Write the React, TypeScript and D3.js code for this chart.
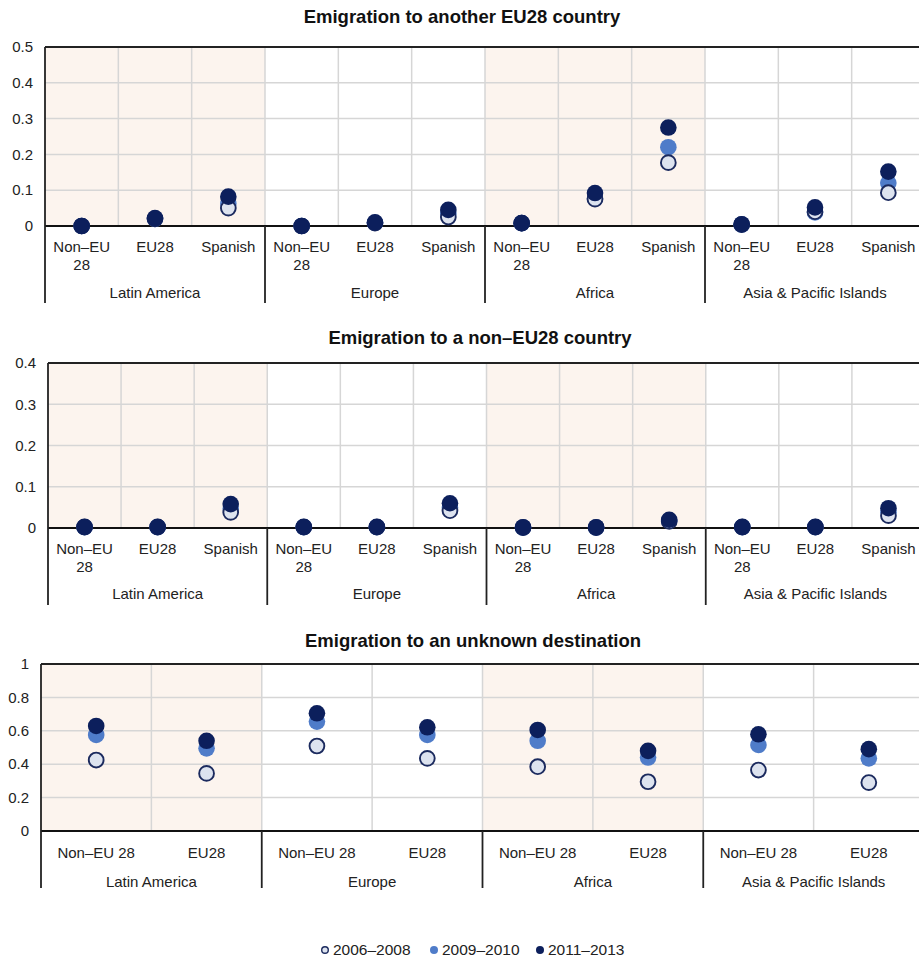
import React from "react";
import * as d3 from "d3";

// ---------- DATA ----------
const groups = ["Latin America", "Europe", "Africa", "Asia & Pacific Islands"];
const subcatsAB = [["Non–EU", "28"], ["EU28"], ["Spanish"]];
const subcatsC = [["Non–EU 28"], ["EU28"]];
const seriesNames = ["2006–2008", "2009–2010", "2011–2013"];

const titleA = "Emigration to another EU28 country";
const titleB = "Emigration to a non–EU28 country";
const titleC = "Emigration to an unknown destination";

const ticksA = [0, 0.1, 0.2, 0.3, 0.4, 0.5];
const ticksB = [0, 0.1, 0.2, 0.3, 0.4];
const ticksC = [0, 0.2, 0.4, 0.6, 0.8, 1];

// Panel A: another EU28 country (12 categories: group x subcat)
const aS1 = [0, 0.02, 0.05, 0, 0.008, 0.025, 0.008, 0.075, 0.177, 0.004, 0.04, 0.093];
const aS2 = [0, 0.02, 0.062, 0, 0.009, 0.035, 0.008, 0.077, 0.22, 0.004, 0.038, 0.12];
const aS3 = [0, 0.022, 0.082, 0, 0.01, 0.045, 0.008, 0.092, 0.275, 0.005, 0.052, 0.152];

// Panel B: non-EU28 country
const bS1 = [0.002, 0.002, 0.038, 0.002, 0.002, 0.042, 0.001, 0.001, 0.016, 0.002, 0.002, 0.03];
const bS2 = [0.002, 0.002, 0.047, 0.002, 0.002, 0.05, 0.001, 0.001, 0.018, 0.002, 0.002, 0.038];
const bS3 = [0.003, 0.003, 0.058, 0.003, 0.003, 0.06, 0.002, 0.002, 0.02, 0.003, 0.003, 0.048];

// Panel C: unknown destination (8 categories)
const cS1 = [0.425, 0.345, 0.509, 0.435, 0.385, 0.295, 0.365, 0.29];
const cS2 = [0.575, 0.495, 0.655, 0.575, 0.54, 0.44, 0.515, 0.435];
const cS3 = [0.629, 0.54, 0.705, 0.621, 0.605, 0.48, 0.579, 0.49];

// ---------- STYLE ----------
const FONT = "'Liberation Sans', Arial, sans-serif";
const C_LIGHT = "#dde3ef";
const C_MID = "#4f7cc9";
const C_DARK = "#0c1f5c";
const C_STROKE = "#1b2a5e";
const SHADE = "#fcf4ee";
const GRID = "#d6d6d6";
const TEXT = "#222";

type PanelProps = {
  title: string;
  titleX: number;
  titleY: number;
  left: number;
  right: number;
  top: number;
  zero: number;
  bottom: number;
  yMax: number;
  ticks: number[];
  tickFmt: (v: number) => string;
  subcats: string[][];
  s1: number[];
  s2: number[];
  s3: number[];
  labelY: number;
  groupY: number;
};

function Panel(p: PanelProps) {
  const nSub = p.subcats.length;
  const n = groups.length * nSub;
  const idx = d3.range(n);
  const x = d3.scaleBand<number>().domain(idx).range([p.left, p.right]).padding(0);
  const y = d3.scaleLinear().domain([0, p.yMax]).range([p.zero, p.top]);
  const bw = x.bandwidth();
  const r = 8.3;

  return (
    <g>
      <text x={p.titleX} y={p.titleY} textAnchor="middle" fontFamily={FONT} fontWeight="bold" fontSize={18.5} fill="#111">
        {p.title}
      </text>
      {groups.map((g, gi) =>
        gi % 2 === 0 ? (
          <rect key={"sh" + gi} x={x(gi * nSub)!} y={p.top} width={bw * nSub} height={p.zero - p.top} fill={SHADE} />
        ) : null
      )}
      {p.ticks.map((t) => (
        <line key={"hg" + t} x1={p.left} x2={p.right} y1={y(t)} y2={y(t)} stroke={GRID} strokeWidth={1.5} />
      ))}
      {idx.slice(1).map((i) => (
        <line key={"vg" + i} x1={x(i)!} x2={x(i)!} y1={p.top} y2={p.zero} stroke={GRID} strokeWidth={1.5} />
      ))}
      <line x1={p.left} x2={p.right} y1={p.top} y2={p.top} stroke="#222" strokeWidth={1.8} />
      <line x1={p.left} x2={p.right} y1={p.zero} y2={p.zero} stroke="#111" strokeWidth={1.8} />
      <line x1={p.left} x2={p.left} y1={p.top} y2={p.bottom} stroke="#222" strokeWidth={1.8} />
      {groups.map((g, gi) =>
        gi > 0 ? (
          <line key={"gs" + gi} x1={x(gi * nSub)!} x2={x(gi * nSub)!} y1={p.zero} y2={p.bottom} stroke="#222" strokeWidth={1.8} />
        ) : null
      )}
      {p.ticks.map((t) => (
        <text key={"yt" + t} x={p.left - 12} y={y(t)} dy="0.35em" textAnchor="end" fontFamily={FONT} fontSize={15} fill={TEXT}>
          {p.tickFmt(t)}
        </text>
      ))}
      {idx.map((i) => {
        const lines = p.subcats[i % nSub];
        const cx = x(i)! + bw / 2;
        return (
          <text key={"cl" + i} x={cx} y={p.labelY} textAnchor="middle" fontFamily={FONT} fontSize={15} fill={TEXT}>
            {lines.map((ln, li) => (
              <tspan key={li} x={cx} dy={li === 0 ? 0 : 18}>
                {ln}
              </tspan>
            ))}
          </text>
        );
      })}
      {groups.map((g, gi) => (
        <text key={"gl" + gi} x={x(gi * nSub)! + (bw * nSub) / 2} y={p.groupY} textAnchor="middle" fontFamily={FONT} fontSize={15} fill={TEXT}>
          {g}
        </text>
      ))}
      {p.s2.map((v, i) => (
        <circle key={"m" + i} cx={x(i)! + bw / 2} cy={y(v)} r={r} fill={C_MID} />
      ))}
      {p.s1.map((v, i) => (
        <circle key={"l" + i} cx={x(i)! + bw / 2} cy={y(v)} r={r - 0.9} fill={C_LIGHT} stroke={C_STROKE} strokeWidth={1.9} />
      ))}
      {p.s3.map((v, i) => (
        <circle key={"d" + i} cx={x(i)! + bw / 2} cy={y(v)} r={r} fill={C_DARK} />
      ))}
    </g>
  );
}

function Legend() {
  const items = [
    { name: seriesNames[0], mx: 325, tx: 333, fill: C_LIGHT, stroke: C_STROKE },
    { name: seriesNames[1], mx: 434, tx: 442, fill: C_MID, stroke: "none" },
    { name: seriesNames[2], mx: 540, tx: 548, fill: C_DARK, stroke: "none" },
  ];
  return (
    <g>
      {items.map((it) => (
        <g key={it.name}>
          <circle cx={it.mx} cy={950} r={it.stroke === "none" ? 4 : 3.3} fill={it.fill} stroke={it.stroke} strokeWidth={1.4} />
          <text x={it.tx} y={950} dy="0.35em" fontFamily={FONT} fontSize={15.5} fill={TEXT}>
            {it.name}
          </text>
        </g>
      ))}
    </g>
  );
}

export default function App() {
  const fmtDec = (v: number) => (v === 0 ? "0" : d3.format(".1f")(v));
  const fmtC = (v: number) => (v === 0 ? "0" : v === 1 ? "1" : d3.format(".1f")(v));
  return (
    <svg width={919} height={959} style={{ position: "absolute", left: 0, top: 0, background: "#fff" }}>
      <rect width={919} height={959} fill="#fff" />
      <Panel
        title={titleA} titleX={462} titleY={23}
        left={45} right={925} top={47} zero={226} bottom={303}
        yMax={0.5} ticks={ticksA} tickFmt={fmtDec}
        subcats={subcatsAB} s1={aS1} s2={aS2} s3={aS3}
        labelY={252} groupY={298}
      />
      <Panel
        title={titleB} titleX={480} titleY={344}
        left={48} right={925} top={363} zero={528} bottom={605}
        yMax={0.4} ticks={ticksB} tickFmt={fmtDec}
        subcats={subcatsAB} s1={bS1} s2={bS2} s3={bS3}
        labelY={554} groupY={599}
      />
      <Panel
        title={titleC} titleX={473} titleY={647}
        left={41} right={924} top={664} zero={831} bottom={888}
        yMax={1} ticks={ticksC} tickFmt={fmtC}
        subcats={subcatsC} s1={cS1} s2={cS2} s3={cS3}
        labelY={858} groupY={887}
      />
      <Legend />
    </svg>
  );
}
